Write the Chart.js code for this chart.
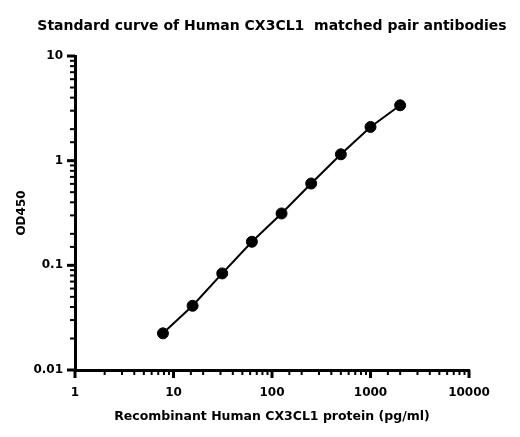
<!DOCTYPE html>
<html>
<head>
<meta charset="utf-8">
<script src="https://cdn.jsdelivr.net/npm/chart.js@4"></script>
<style>
  html, body { margin: 0; padding: 0; background: #fff; }
  #wrap { width: 520px; height: 437px; }
</style>
</head>
<body>
<div id="wrap"><canvas id="curveChart"></canvas></div>
<script>
// Standard curve data (concentration in pg/ml, OD450)
const concentrations = [7.8125, 15.625, 31.25, 62.5, 125, 250, 500, 1000, 2000];
const odValues = [0.0224, 0.0411, 0.0837, 0.168, 0.313, 0.605, 1.15, 2.1, 3.38];
const xTickLabels = [1, 10, 100, 1000, 10000];
const yTickLabels = [0.01, 0.1, 1, 10];
const chartTitle = "Standard curve of Human CX3CL1  matched pair antibodies";

const FONT = "'DejaVu Sans', 'Liberation Sans', Arial, sans-serif";

function isDecade(v) {
  const l = Math.log10(v);
  return Math.abs(l - Math.round(l)) < 1e-9;
}

function decadeLabel(value, labels) {
  const match = labels.find((l) => Math.abs(l - value) / l < 1e-6);
  return match === undefined ? "" : String(match);
}

// Title is wider than the plot, so draw it centred over the plot area ourselves
const plotTitle = {
  id: "plotTitle",
  afterDraw(chart) {
    const ctx = chart.ctx;
    const area = chart.chartArea;
    ctx.save();
    ctx.fillStyle = "#000";
    ctx.font = "bold 14px " + FONT;
    ctx.textAlign = "center";
    ctx.textBaseline = "middle";
    ctx.fillText(chartTitle, (area.left + area.right) / 2, 26);
    ctx.restore();
  },
};

// Outward tick marks: long ones at decades, short ones between
const logTicks = {
  id: "logTicks",
  afterDraw(chart) {
    const ctx = chart.ctx;
    const area = chart.chartArea;
    ctx.save();
    ctx.strokeStyle = "#000";
    ctx.lineCap = "butt";

    const xs = chart.scales.x;
    xs.ticks.forEach((t) => {
      const px = xs.getPixelForValue(t.value);
      const len = isDecade(t.value) ? 8 : 5;
      ctx.lineWidth = isDecade(t.value) ? 3 : 2;
      ctx.beginPath();
      ctx.moveTo(px, area.bottom);
      ctx.lineTo(px, area.bottom + len);
      ctx.stroke();
    });

    const ys = chart.scales.y;
    ys.ticks.forEach((t) => {
      const py = ys.getPixelForValue(t.value);
      const len = isDecade(t.value) ? 8 : 5;
      ctx.lineWidth = isDecade(t.value) ? 3 : 2;
      ctx.beginPath();
      ctx.moveTo(area.left, py);
      ctx.lineTo(area.left - len, py);
      ctx.stroke();
    });
    ctx.restore();
  },
};

const ctx = document.getElementById("curveChart").getContext("2d");
new Chart(ctx, {
  type: "scatter",
  data: {
    datasets: [
      {
        label: "CX3CL1",
        data: concentrations.map((c, i) => ({ x: c, y: odValues[i] })),
        showLine: true,
        borderColor: "#000",
        borderWidth: 2,
        pointRadius: 5.5,
        pointBorderWidth: 1,
        pointBackgroundColor: "#000",
        pointBorderColor: "#000",
        tension: 0,
      },
    ],
  },
  options: {
    responsive: true,
    maintainAspectRatio: false,
    animation: false,
    layout: {
      padding: { left: 0, right: 51, top: 56, bottom: 0 },
    },
    plugins: {
      legend: { display: false },
      tooltip: { enabled: false },
      title: { display: false },
    },
    scales: {
      x: {
        type: "logarithmic",
        min: 1,
        max: 10000,
        afterFit(scale) {
          scale.height = 67;
        },
        border: { display: true, color: "#000", width: 3 },
        grid: { display: false, drawTicks: false },
        ticks: {
          autoSkip: false,
          maxRotation: 0,
          color: "#000",
          padding: 16,
          font: { family: FONT, size: 12, weight: "bold" },
          callback: (value) => decadeLabel(value, xTickLabels),
        },
        title: {
          display: true,
          text: "Recombinant Human CX3CL1 protein (pg/ml)",
          color: "#000",
          font: { family: FONT, size: 12.5, weight: "bold" },
          padding: { top: 0, bottom: 12.5 },
        },
      },
      y: {
        type: "logarithmic",
        min: 0.01,
        max: 10,
        afterFit(scale) {
          scale.width = 75;
        },
        border: { display: true, color: "#000", width: 3 },
        grid: { display: false, drawTicks: false },
        ticks: {
          autoSkip: false,
          color: "#000",
          padding: 12,
          font: { family: FONT, size: 12, weight: "bold" },
          callback: (value) => decadeLabel(value, yTickLabels),
        },
        title: {
          display: true,
          text: "OD450",
          color: "#000",
          font: { family: FONT, size: 12, weight: "bold" },
          padding: { top: 15, bottom: 0 },
        },
      },
    },
  },
  plugins: [logTicks, plotTitle],
});
</script>
</body>
</html>
